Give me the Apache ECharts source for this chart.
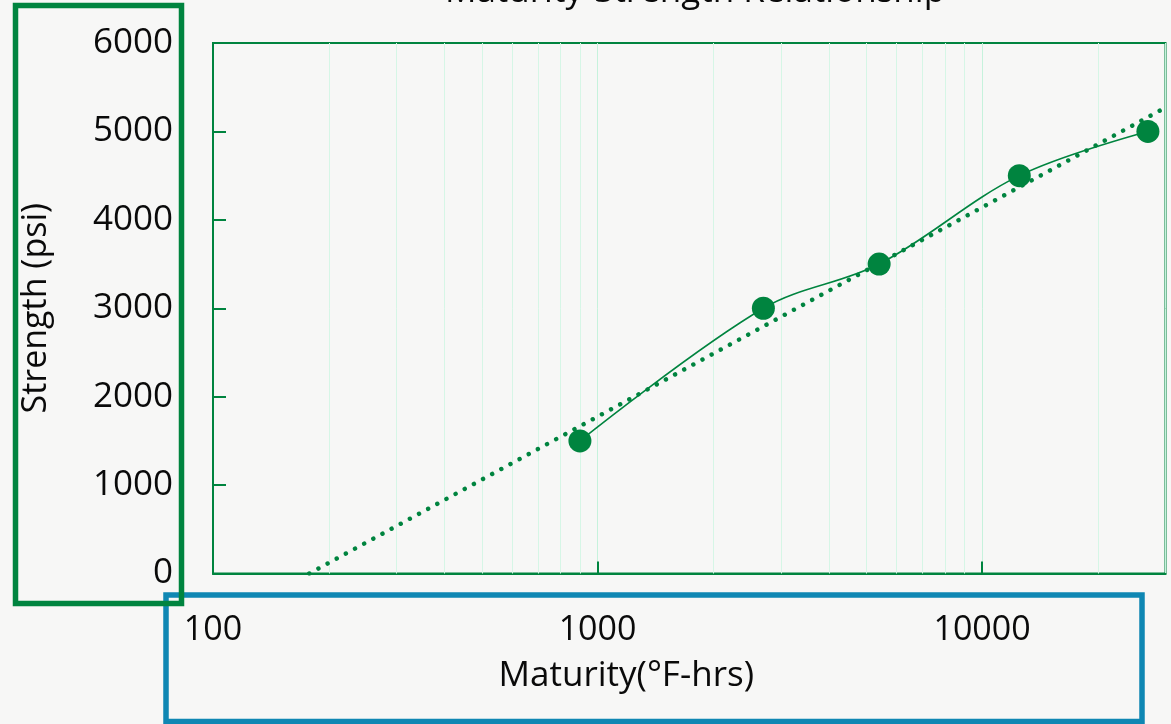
<!DOCTYPE html>
<html>
<head>
<meta charset="utf-8">
<script src="https://cdn.jsdelivr.net/npm/echarts@6/dist/echarts.min.js"></script>
<style>
  html, body { margin: 0; padding: 0; background: #f7f7f6; }
  #chart { width: 1171px; height: 724px; }
</style>
</head>
<body>
<div id="chart"></div>
<script>
// Measured maturity (°F-hrs) and compressive strength (psi)
const maturity = [900, 2700, 5400, 12500, 27000];
const strength = [1500, 3000, 3500, 4500, 5000];

// Logarithmic trend line end points
const trendMaturity = [178, 30000];
const trendStrength = [0, 5270];

// Intermediate log-decade grid lines
const minorGridValues = [200, 300, 400, 500, 600, 700, 800, 900,
                         2000, 3000, 4000, 5000, 6000, 7000, 8000, 9000, 20000];

const xRange = [100, 30000];
const yRange = [0, 6000];
const yStep = 1000;

const GREEN = '#00843f';
const BLUE = '#0f87b3';
const FONT = "'Open Sans', 'Noto Sans', sans-serif";

const chart = echarts.init(document.getElementById('chart'), null, { renderer: 'canvas' });

chart.setOption({
  animation: false,
  backgroundColor: '#f7f7f6',
  title: {
    text: 'Maturity-Strength Relationship',
    left: 690,
    textAlign: 'center',
    top: -30,
    textStyle: { fontFamily: FONT, fontWeight: 'normal', fontSize: 35, color: '#0a0a0a' }
  },
  grid: {
    left: 213, right: 5.5, top: 43, bottom: 150.5,
    show: true, borderColor: GREEN, borderWidth: 2,
    backgroundColor: 'transparent',
    outerBoundsMode: 'none'
  },
  xAxis: {
    type: 'log',
    logBase: 10,
    min: xRange[0],
    max: xRange[1],
    name: 'Maturity(°F-hrs)',
    nameLocation: 'middle',
    nameGap: 85,
    nameTextStyle: { fontFamily: FONT, fontSize: 35, color: '#0a0a0a', padding: [0, 126, 0, 0] },
    axisLine: { show: true, lineStyle: { color: GREEN, width: 2 } },
    axisTick: { show: true, inside: true, length: 12, lineStyle: { color: GREEN, width: 2 } },
    axisLabel: {
      margin: 40, fontFamily: FONT, fontSize: 34, color: '#0a0a0a',
      showMaxLabel: false,
      formatter: v => String(Math.round(v))
    },
    splitLine: { show: true, lineStyle: { color: '#c6f2dc', width: 1 } },
    minorTick: { show: false },
    minorSplitLine: { show: false }
  },
  yAxis: {
    type: 'value',
    min: yRange[0],
    max: yRange[1],
    interval: yStep,
    name: 'Strength (psi)',
    nameLocation: 'middle',
    nameGap: 160,
    nameRotate: 90,
    nameTextStyle: { fontFamily: FONT, fontSize: 34, color: '#0a0a0a' },
    axisLine: { show: true, lineStyle: { color: GREEN, width: 2 } },
    axisTick: { show: true, inside: true, length: 13, lineStyle: { color: GREEN, width: 2 } },
    axisLabel: {
      margin: 40, fontFamily: FONT, fontSize: 35, color: '#0a0a0a',
      formatter: v => String(Math.round(v))
    },
    splitLine: { show: false }
  },
  series: [
    {
      name: 'Trend',
      type: 'line',
      data: trendMaturity.map((x, i) => [x, trendStrength[i]]),
      symbol: 'none',
      silent: true,
      z: 3,
      lineStyle: { color: GREEN, width: 4.5, type: [0.01, 10.4], cap: 'round' },
      markLine: {
        silent: true,
        symbol: 'none',
        label: { show: false },
        z: 1,
        lineStyle: { color: '#d6f6e6', width: 1, type: 'solid' },
        data: minorGridValues.map(v => ({ xAxis: v }))
      }
    },
    {
      name: 'Strength',
      type: 'line',
      data: maturity.map((x, i) => [x, strength[i]]),
      smooth: 0.35,
      symbol: 'circle',
      symbolSize: 23,
      showAllSymbol: true,
      z: 4,
      itemStyle: { color: GREEN },
      lineStyle: { color: GREEN, width: 1.6 }
    }
  ],
  graphic: [
    {
      type: 'rect',
      z: 10,
      shape: { x: 166, y: 595, width: 976, height: 126.5 },
      style: { fill: 'none', stroke: BLUE, lineWidth: 5.5 }
    },
    {
      type: 'rect',
      z: 11,
      shape: { x: 15.5, y: 5.5, width: 166, height: 598 },
      style: { fill: 'none', stroke: GREEN, lineWidth: 5.5 }
    }
  ]
});
</script>
</body>
</html>
